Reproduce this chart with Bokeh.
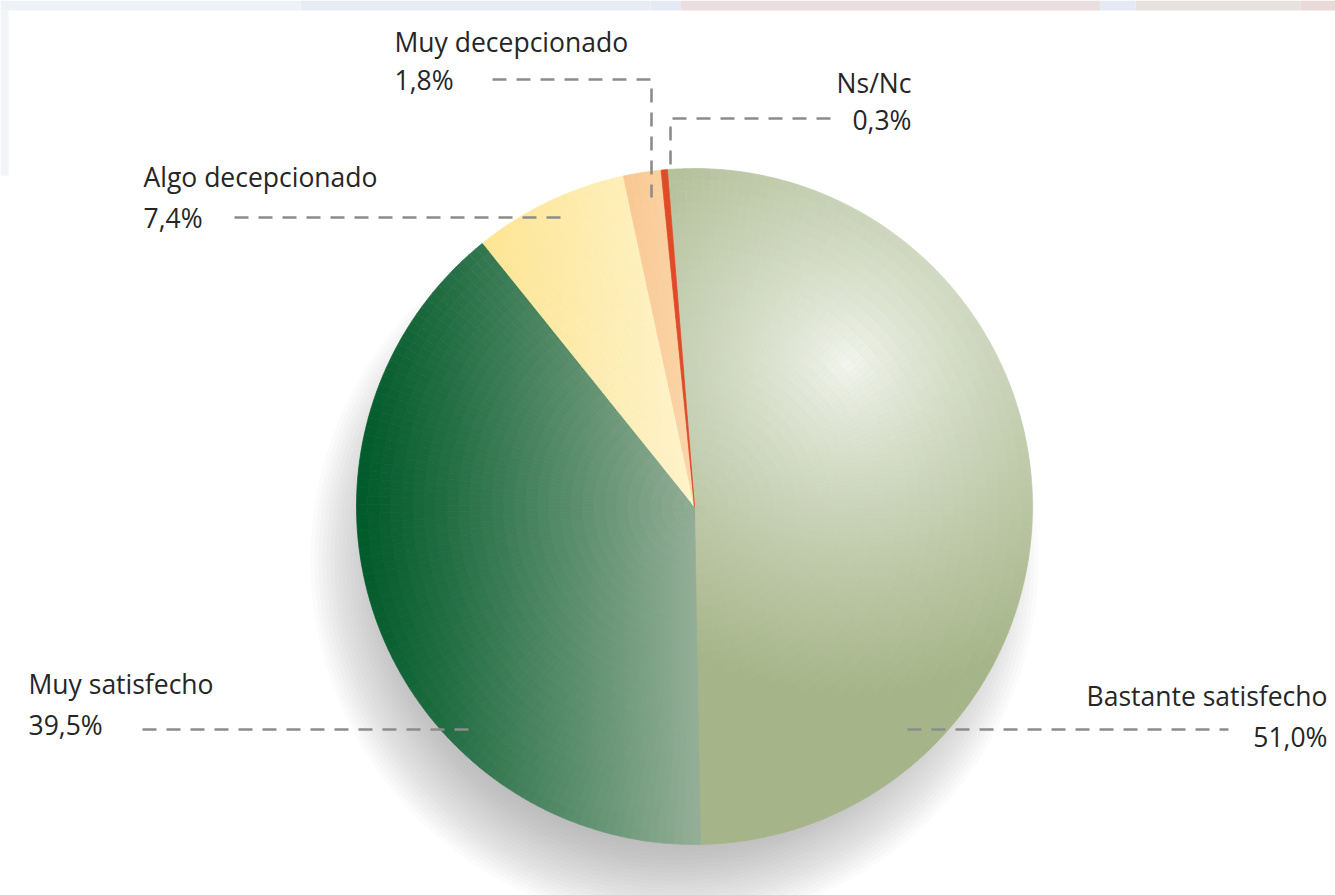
import math
import numpy as np
from bokeh.plotting import figure
from bokeh.models import Range1d, ColumnDataSource
from bokeh.embed import file_html
from bokeh.resources import INLINE
from bokeh.core.properties import value

# ---------------- data ----------------
labels = ["Bastante satisfecho", "Muy satisfecho", "Algo decepcionado", "Muy decepcionado", "Ns/Nc"]
values = [51.0, 39.5, 7.4, 1.8, 0.3]
value_text = ["51,0%", "39,5%", "7,4%", "1,8%", "0,3%"]

# ---------------- style ----------------
FONT = "Open Sans"
TXT = "#262626"
DASH_COLOR = "#8c8c8c"
CX, CY, R = 694.0, 506.0, 338.0          # pie centre / radius (page pixels)
START_DEG = -4.6                          # first slice starts slightly left of 12 o'clock

def hx(c):
    c = c.lstrip("#")
    return np.array([int(c[i:i + 2], 16) for i in (0, 2, 4)], dtype=float)

def lerp(a, b, t):
    t = min(max(t, 0.0), 1.0)
    c = hx(a) * (1 - t) + hx(b) * t
    return "#%02x%02x%02x" % tuple(int(round(v)) for v in c)

def shade(i, px, py):
    if i == 0:   # Bastante satisfecho: radial highlight
        d = math.hypot(px - 848, py - 363)
        return lerp("#f3f6ef", "#a6b589", (d / 330.0) ** 0.8)
    if i == 1:   # Muy satisfecho: dark left -> light right
        t = (px - 356) / (CX - 356)
        return lerp("#005a2a", "#93ae96", t ** 1.1)
    if i == 2:
        t = (px - 487) / (CX - 487)
        return lerp("#fde594", "#fff4cc", t)
    if i == 3:
        t = (px - 625) / (CX - 625)
        return lerp("#f9c892", "#fcd6aa", t)
    return "#e04a26"

# ---------------- figure ----------------
W, H = 1335, 895
p = figure(width=W, height=H, x_range=Range1d(0, W), y_range=Range1d(-H, 0),
           output_backend="svg", toolbar_location=None, min_border=0,
           background_fill_color="white", border_fill_color="white")
p.axis.visible = False
p.grid.visible = False
p.outline_line_color = None

# faint backdrop strip along the top / left edge
band = [(0, 300, "#eef1f6"), (300, 650, "#e7ebf3"), (650, 680, "#e5e9f4"), (680, 1100, "#eadee1"),
        (1100, 1135, "#e4e9f5"), (1135, 1300, "#e7e2df"), (1300, 1335, "#e9d9d9")]
p.quad(left=[b[0] for b in band], right=[b[1] for b in band], top=[0] * len(band),
       bottom=[-10] * len(band), fill_color=[b[2] for b in band], line_color=None)
p.quad(left=[0], right=[8], top=[-10], bottom=[-175], fill_color="#f3f4f8", line_color=None)

# shadow (soft, offset downwards / slightly left)
shadow_r = list(np.arange(280, 368, 4.0))
p.circle(x=[674] * len(shadow_r), y=[-560] * len(shadow_r), radius=shadow_r,
         fill_color="#80848f", fill_alpha=0.035, line_color=None)

# pie slices, tessellated into small polar cells to carry the shading
total = sum(values)
cells = dict(inner=[], outer=[], start=[], end=[], color=[])
theta = START_DEG
N_RINGS = 30
for i, v in enumerate(values):
    span = v / total * 360.0
    t0, t1 = theta, theta + span
    n_ang = max(1, int(math.ceil(span / 1.5)))
    for a in range(n_ang):
        a0 = t0 + span * a / n_ang
        a1 = t0 + span * (a + 1) / n_ang
        am = math.radians((a0 + a1) / 2)
        for k in range(N_RINGS):
            r0 = R * k / N_RINGS
            r1 = R * (k + 1) / N_RINGS
            rm = (r0 + r1) / 2
            px = CX + rm * math.sin(am)
            py = CY - rm * math.cos(am)
            cells["inner"].append(r0)
            cells["outer"].append(r1)
            cells["start"].append(math.radians(90 - a1))
            cells["end"].append(math.radians(90 - a0))
            cells["color"].append(shade(i, px, py))
    theta = t1

src = ColumnDataSource(cells)
p.annular_wedge(x=CX, y=-CY, inner_radius="inner", outer_radius="outer",
                start_angle="start", end_angle="end", direction="anticlock",
                fill_color="color", line_color="color", line_width=0.7, source=src)

# leader lines
leaders = [
    [(907, 729), (1228, 729)],                 # Bastante satisfecho
    [(142, 729), (478, 729)],                  # Muy satisfecho
    [(234, 217), (562, 217)],                  # Algo decepcionado
    [(492, 79), (651, 79), (651, 197)],        # Muy decepcionado
    [(830, 118), (670, 118), (670, 168)],      # Ns/Nc
]
p.multi_line(xs=[[q[0] for q in s] for s in leaders], ys=[[-q[1] for q in s] for s in leaders],
             line_color=DASH_COLOR, line_width=2.6, line_dash="14 10")

# labels: (x, name baseline, value baseline, align)
pos = [
    (1327, 695, 736, "right"),
    (28, 683, 724, "left"),
    (143, 176, 217, "left"),
    (394, 41, 79, "left"),
    (911, 82, 119, "right"),
]
for i, (x, yb1, yb2, al) in enumerate(pos):
    p.text(x=[x, x], y=[-yb1, -yb2], text=[labels[i], value_text[i]],
           text_font=value(FONT), text_font_size="26.5px", text_color=TXT,
           text_align=al, text_baseline="alphabetic")

open("out.html", "w").write(file_html(p, INLINE))
